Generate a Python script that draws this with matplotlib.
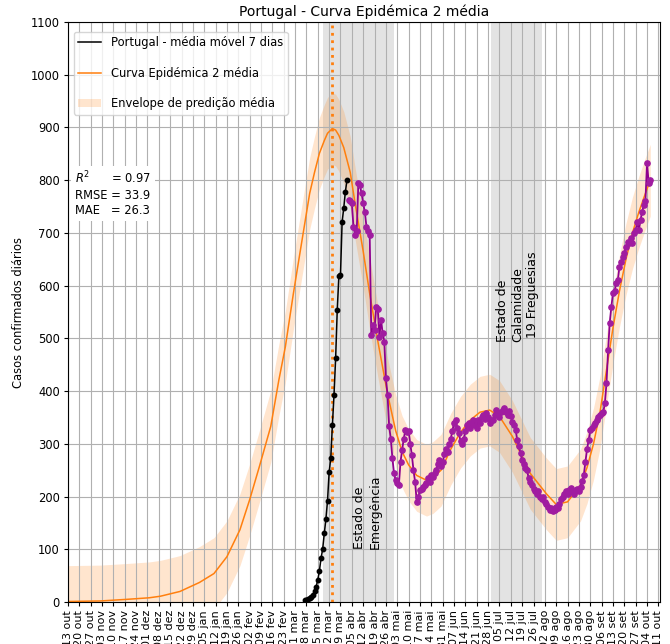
import matplotlib
matplotlib.use('Agg')
import matplotlib.pyplot as plt
from matplotlib.patches import Patch
from matplotlib.lines import Line2D
import pandas as pd

plt.rcParams['font.family'] = ['DejaVu Sans']
plt.rcParams['font.size'] = 8.3
for a in ('xtick', 'ytick'):
    plt.rcParams[f'{a}.major.size'] = 2.9
    plt.rcParams[f'{a}.major.pad'] = 2.9

# ---------------- texts ----------------
title = 'Portugal - Curva Epidémica 2 média'
ylabel = 'Casos confirmados diários'
label_black = 'Portugal - média móvel 7 dias'
label_curve = 'Curva Epidémica 2 média'
label_env = 'Envelope de predição média'
stats_lines = ['$R^2$      = 0.97', 'RMSE = 33.9', 'MAE   = 26.3']
text_emergency = 'Estado de\nEmergência'
text_calamity = 'Estado de\nCalamidade\n 19 Freguesias'
months_pt = ['jan', 'fev', 'mar', 'abr', 'mai', 'jun', 'jul', 'ago', 'set', 'out', 'nov', 'dez']

# ---------------- data ----------------
black_start = '2020-03-07'
black_values = [3, 4, 5, 7, 9, 13, 20, 29, 42, 59, 83, 100, 130, 157, 192, 246, 273,
                335, 393, 462, 554, 618, 621, 721, 747, 778, 800]

purple_start = '2020-04-03'
purple_values = [
    763, 760, 756, 712, 696, 703, 794, 790, 775, 756,
    740, 712, 703, 696, 506, 525, 516, 560, 555, 503,
    535, 510, 494, 424, 393, 333, 310, 273, 244, 231,
    225, 222, 266, 288, 310, 326, 323, 325, 300, 279,
    250, 228, 190, 200, 212, 215, 219, 222, 225, 235,
    228, 240, 238, 245, 250, 262, 270, 258, 265, 280,
    290, 285, 300, 310, 325, 340, 345, 330, 320, 305,
    300, 310, 325, 335, 340, 330, 338, 345, 335, 330,
    345, 339, 350, 355, 348, 358, 350, 340, 345, 345,
    355, 364, 358, 350, 360, 364, 368, 360, 355, 362,
    352, 342, 335, 326, 307, 295, 282, 269, 262, 255,
    250, 235, 228, 222, 215, 210, 205, 210, 200, 195,
    200, 190, 185, 180, 175, 178, 172, 175, 180, 178,
    185, 195, 200, 205, 210, 205, 212, 216, 210, 205,
    212, 215, 210, 219, 230, 241, 266, 290, 307, 326,
    330, 335, 339, 345, 350, 355, 358, 360, 377, 415,
    478, 530, 560, 586, 590, 605, 611, 636, 645, 655,
    662, 674, 683, 680, 690, 681, 700, 705, 721, 706,
    725, 740, 753, 760, 833, 795, 800]

curve_dates = [
    '2019-10-13', '2019-11-02', '2019-11-18', '2019-12-02', '2019-12-09', '2019-12-21',
    '2020-01-02', '2020-01-11', '2020-01-19', '2020-01-27', '2020-02-02', '2020-02-08',
    '2020-02-15', '2020-02-20', '2020-02-24', '2020-02-29', '2020-03-04', '2020-03-10',
    '2020-03-13', '2020-03-16', '2020-03-19', '2020-03-21', '2020-03-24', '2020-03-26',
    '2020-03-28', '2020-03-31', '2020-04-04', '2020-04-07',
    '2020-04-12', '2020-04-16', '2020-04-21', '2020-04-27', '2020-05-02', '2020-05-06',
    '2020-05-10', '2020-05-15', '2020-05-21', '2020-05-25', '2020-05-30', '2020-06-05',
    '2020-06-11', '2020-06-17', '2020-06-23', '2020-06-29', '2020-07-05', '2020-07-13',
    '2020-07-24', '2020-08-03', '2020-08-09', '2020-08-16', '2020-08-24', '2020-08-28',
    '2020-09-01', '2020-09-05', '2020-09-09', '2020-09-13', '2020-09-17', '2020-09-21',
    '2020-09-25', '2020-09-29', '2020-10-03', '2020-10-06']
curve_values = [
    1, 2, 5, 8, 11, 20, 37, 54, 86, 137, 194, 257,
    333, 421, 484, 586, 662, 775,
    815, 851, 875, 889, 898, 895,
    885, 862, 815, 756,
    665, 585, 495, 395, 325, 285, 260, 240, 231, 236, 250, 290,
    322, 345, 360, 364, 352, 314, 244, 205, 185, 190, 222, 255,
    300, 360, 440, 520, 590, 650, 700, 740, 775, 800]
envelope_halfwidth = 68

peak_date = '2020-03-24'
emergency_span = ('2020-03-18', '2020-05-01')
calamity_span = ('2020-06-30', '2020-07-31')
tick_first, tick_last = '2019-10-13', '2020-10-11'
xlim = ('2019-10-13', '2020-10-12')

# ---------------- plot ----------------
fig = plt.figure(figsize=(6.70, 6.44), dpi=100)
ax = fig.add_axes([0.1015, 0.0652, 0.8836, 0.9006])

ax.axvspan(pd.Timestamp(emergency_span[0]), pd.Timestamp(emergency_span[1]),
           color='grey', alpha=0.22, lw=0)
ax.axvspan(pd.Timestamp(calamity_span[0]), pd.Timestamp(calamity_span[1]),
           color='grey', alpha=0.22, lw=0)

cd = pd.to_datetime(curve_dates)
cv = pd.Series(curve_values, dtype=float)
ax.fill_between(cd, cv - envelope_halfwidth, cv + envelope_halfwidth,
                color='#ff7f0e', alpha=0.2, lw=0)
ax.plot(cd, cv, color='#ff7f0e', lw=1.1)
ax.axvline(pd.Timestamp(peak_date), color='#ff7f0e', ls=':', lw=2)

bd = pd.date_range(black_start, periods=len(black_values), freq='D')
ax.plot(bd, black_values, color='black', lw=1.1, marker='o', ms=3.2)

pdts = pd.date_range(purple_start, periods=len(purple_values), freq='D')
ax.plot(pdts, purple_values, color='#8e008e', lw=1.3, marker='o', ms=3.8,
        markerfacecolor='#a01ca0', markeredgecolor='#a01ca0')

ax.text(pd.Timestamp('2020-04-06'), 100, text_emergency, rotation=90,
        ha='left', va='bottom', multialignment='left', fontsize=9)
ax.text(pd.Timestamp('2020-07-03'), 493, text_calamity, rotation=90,
        ha='left', va='bottom', multialignment='left', fontsize=9)

ax.text(0.012, 0.745, '\n'.join(stats_lines), transform=ax.transAxes,
        ha='left', va='top', bbox=dict(facecolor='white', edgecolor='none', pad=3))

ticks = pd.date_range(tick_first, tick_last, freq='7D')
ax.set_xticks(ticks)
ax.set_xticklabels([f'{d.day:02d} {months_pt[d.month - 1]}' for d in ticks],
                   rotation=90, fontsize=8.0)
ax.set_xlim(pd.Timestamp(xlim[0]), pd.Timestamp(xlim[1]))
ax.set_ylim(0, 1100)
ax.set_yticks(range(0, 1101, 100))
ax.grid(True)
ax.set_ylabel(ylabel)
ax.set_title(title, pad=4)

handles = [Line2D([], [], color='black', lw=1.1),
           Line2D([], [], color='#ff7f0e', lw=1.1),
           Patch(facecolor='#ff7f0e', alpha=0.2, edgecolor='none')]
ax.legend(handles, [label_black, label_curve, label_env], loc='upper left',
          bbox_to_anchor=(0.0, 0.993), labelspacing=1.5)

fig.savefig('out.png', dpi=100)
